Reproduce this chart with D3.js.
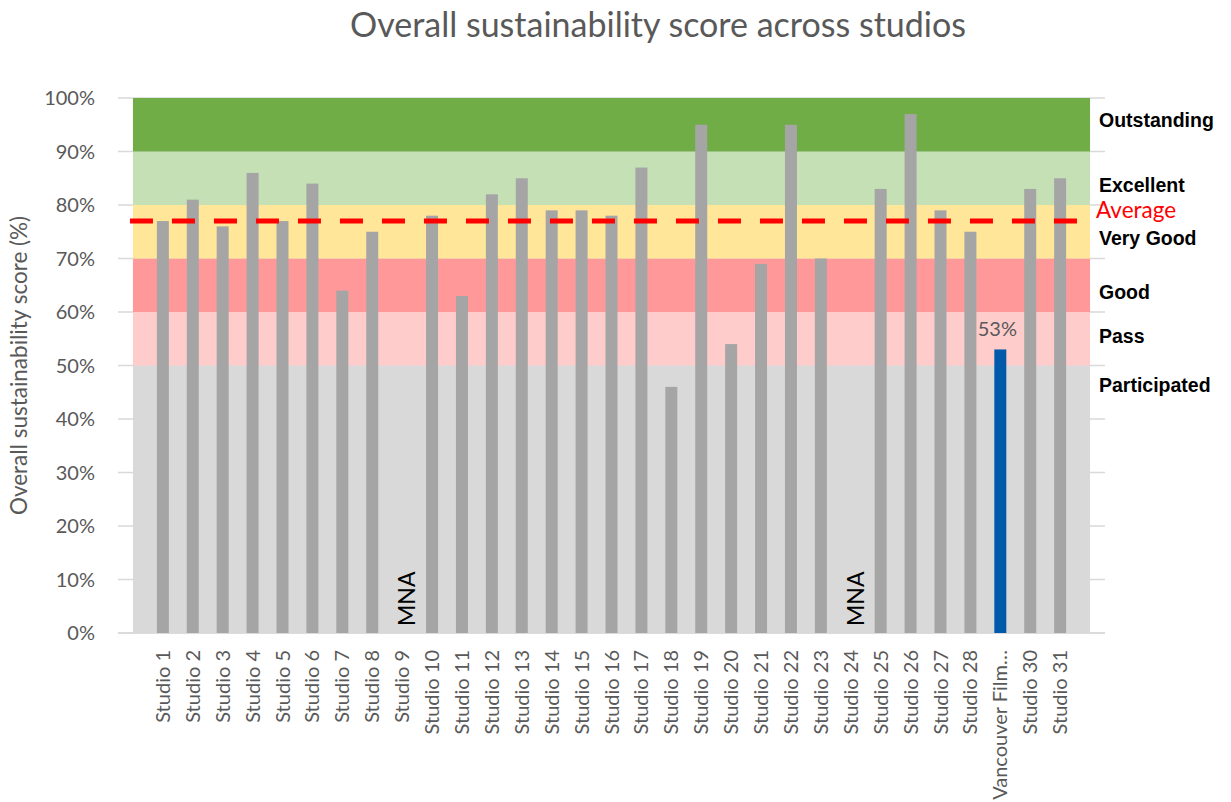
<!DOCTYPE html>
<html>
<head>
<meta charset="utf-8">
<script src="https://cdn.jsdelivr.net/npm/d3@7"></script>
<style>
  body { margin: 0; background: #fff; }
</style>
</head>
<body>
<script>
// studio names, in chart order
const studios = ["Studio 1", "Studio 2", "Studio 3", "Studio 4", "Studio 5", "Studio 6", "Studio 7", "Studio 8",
  "Studio 9", "Studio 10", "Studio 11", "Studio 12", "Studio 13", "Studio 14", "Studio 15", "Studio 16",
  "Studio 17", "Studio 18", "Studio 19", "Studio 20", "Studio 21", "Studio 22", "Studio 23", "Studio 24",
  "Studio 25", "Studio 26", "Studio 27", "Studio 28", "Vancouver Film…", "Studio 30", "Studio 31"];
// overall score (%), null = MNA
const scores = [77, 81, 76, 86, 77, 84, 64, 75, null, 78, 63, 82, 85, 79, 79, 78,
  87, 46, 95, 54, 69, 95, 70, null, 83, 97, 79, 75, 53, 83, 85];
const highlight = "Vancouver Film…";
const average = 77;

// rating bands
const bandNames = ["Participated", "Pass", "Good", "Very Good", "Excellent", "Outstanding"];
const bandLow = [0, 50, 60, 70, 80, 90];
const bandHigh = [50, 60, 70, 80, 90, 100];
const bandColors = ["#d9d9d9", "#ffcccc", "#ff9999", "#ffe699", "#c5e0b4", "#70ad47"];
const bandLabelY = [385, 336, 292, 238, 185, 120];

const yTicks = [0, 10, 20, 30, 40, 50, 60, 70, 80, 90, 100];

const W = 1231, H = 802;
const pl = 118, pr = 1105, pt = 98, pb = 633;
const FONT = "Lato, 'Open Sans', sans-serif";
const BOLD = "'Liberation Sans', Arial, sans-serif";

const svg = d3.select("body").append("svg").attr("width", W).attr("height", H)
  .style("font-family", FONT);

// one empty slot on each side of the studios
const x = d3.scaleBand().domain(["_a"].concat(studios, ["_b"])).range([pl, pr]);
const y = d3.scaleLinear().domain([0, 100]).range([pb, pt]);
const cx = d => x(d) + x.bandwidth() / 2;

// gridlines
svg.append("g").selectAll("line").data(yTicks).enter().append("line")
  .attr("x1", pl).attr("x2", pr)
  .attr("y1", d => y(d)).attr("y2", d => y(d))
  .attr("stroke", "#d9d9d9").attr("stroke-width", 1.3);

// bands go from the centre of the first empty slot to the centre of the last
const bx0 = cx("_a"), bx1 = cx("_b");
svg.append("g").selectAll("rect").data(bandNames).enter().append("rect")
  .attr("x", bx0).attr("width", bx1 - bx0)
  .attr("y", (d, i) => y(bandHigh[i]))
  .attr("height", (d, i) => y(bandLow[i]) - y(bandHigh[i]))
  .attr("fill", (d, i) => bandColors[i]);

// axis line
svg.append("line").attr("x1", pl).attr("x2", pr).attr("y1", y(0)).attr("y2", y(0))
  .attr("stroke", "#d9d9d9").attr("stroke-width", 1.5);

// bars
const barW = 12;
const data = studios.map((s, i) => ({name: s, v: scores[i]}));
svg.append("g").selectAll("rect").data(data.filter(d => d.v !== null)).enter().append("rect")
  .attr("x", d => cx(d.name) - barW / 2).attr("width", barW)
  .attr("y", d => y(d.v)).attr("height", d => y(0) - y(d.v))
  .attr("fill", d => d.name === highlight ? "#005aa9" : "#a5a5a5");

// MNA labels
svg.append("g").selectAll("text").data(data.filter(d => d.v === null)).enter().append("text")
  .attr("transform", d => `translate(${cx(d.name) + 13},${y(0) - 7}) rotate(-90)`)
  .attr("font-size", 23).attr("fill", "#000").text("MNA");

// value label for highlighted studio
const hi = data.find(d => d.name === highlight);
svg.append("text").attr("x", cx(hi.name) - 3).attr("y", y(hi.v) - 13)
  .attr("text-anchor", "middle").attr("font-size", 20).attr("fill", "#595959")
  .text(hi.v + "%");

// average line
svg.append("line").attr("x1", bx0 - 3).attr("x2", bx1)
  .attr("y1", y(average)).attr("y2", y(average))
  .attr("stroke", "#ff0000").attr("stroke-width", 5)
  .attr("stroke-dasharray", "23,19");

// y axis labels
svg.append("g").selectAll("text").data(yTicks).enter().append("text")
  .attr("x", 95).attr("y", d => y(d) + 7)
  .attr("text-anchor", "end").attr("font-size", 20).attr("fill", "#595959")
  .text(d => d + "%");

// x axis labels
svg.append("g").selectAll("text").data(studios).enter().append("text")
  .attr("transform", d => `translate(${cx(d) + 7},650) rotate(-90)`)
  .attr("text-anchor", "end").attr("font-size", 20).attr("fill", "#595959")
  .text(d => d);

// band labels
svg.append("g").selectAll("text").data(bandNames).enter().append("text")
  .attr("x", 1099).attr("y", (d, i) => bandLabelY[i] + 7)
  .style("font-family", BOLD)
  .attr("font-weight", "bold").attr("font-size", 19.5).attr("fill", "#000")
  .text(d => d);
svg.append("text").attr("x", 1096).attr("y", 218)
  .attr("font-size", 22.5).attr("fill", "#ff0000").text("Average");

// y axis title
svg.append("text").attr("transform", `translate(27,${(pt + pb) / 2}) rotate(-90)`)
  .attr("text-anchor", "middle").attr("font-size", 22.5).attr("fill", "#595959")
  .text("Overall sustainability score (%)");

// title
svg.append("text").attr("x", 658).attr("y", 37)
  .attr("text-anchor", "middle").attr("font-size", 34).attr("fill", "#595959")
  .text("Overall sustainability score across studios");
</script>
</body>
</html>
